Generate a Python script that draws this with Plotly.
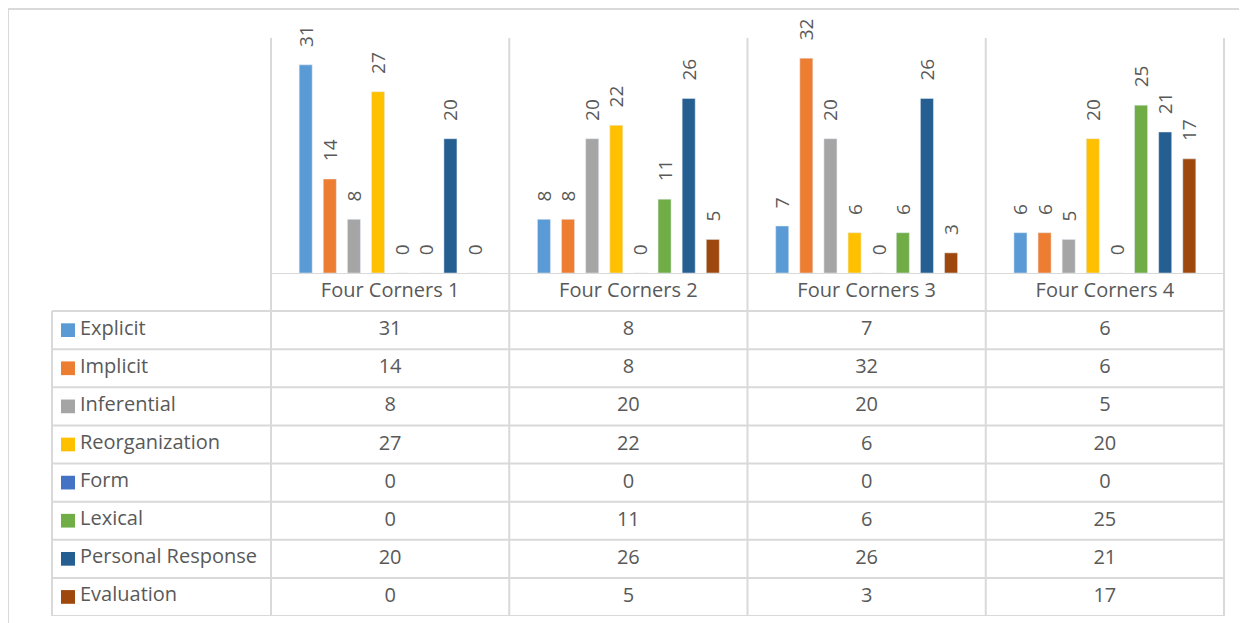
import plotly.graph_objects as go

# The page body has an 8px margin, so the figure is offset by 8px
OFF = 8
W, H = 1247 - OFF, 623 - OFF

categories = ["Four Corners 1", "Four Corners 2", "Four Corners 3", "Four Corners 4"]
series_names = ["Explicit", "Implicit", "Inferential", "Reorganization",
                "Form", "Lexical", "Personal Response", "Evaluation"]
explicit = [31, 8, 7, 6]
implicit = [14, 8, 32, 6]
inferential = [8, 20, 20, 5]
reorganization = [27, 22, 6, 20]
form = [0, 0, 0, 0]
lexical = [0, 11, 6, 25]
personal_response = [20, 26, 26, 21]
evaluation = [0, 5, 3, 17]
series_values = [explicit, implicit, inferential, reorganization,
                 form, lexical, personal_response, evaluation]
colors = ["#5B9BD5", "#ED7D31", "#A5A5A5", "#FFC000",
          "#4472C4", "#70AD47", "#255E91", "#9E480E"]

FONT = "Open Sans"
TXT = "#595959"
GRID = "#D9D9D9"
TSIZE = 20


def px(x):
    return (x - OFF) / W


def py(y):
    return 1 - (y - OFF) / H


fig = go.Figure()

for name, vals, col in zip(series_names, series_values, colors):
    fig.add_trace(go.Bar(
        x=categories, y=vals, name=name, marker_color=col,
        text=["\u00a0\u00a0\u00a0" + str(v) for v in vals],
        textposition="outside", textangle=-90,
        textfont=dict(family=FONT, size=19, color=TXT),
        cliponaxis=False, constraintext="none",
        xaxis="x", yaxis="y", showlegend=False, hoverinfo="skip",
    ))

# table: header row with categories
fig.add_trace(go.Scatter(
    x=categories, y=[0.5] * 4, mode="text", text=categories,
    textfont=dict(family=FONT, size=TSIZE, color=TXT),
    xaxis="x2", yaxis="y2", showlegend=False, hoverinfo="skip",
))
for i, vals in enumerate(series_values):
    fig.add_trace(go.Scatter(
        x=categories, y=[i + 1.5] * 4, mode="text",
        text=[str(v) for v in vals],
        textfont=dict(family=FONT, size=TSIZE, color=TXT),
        xaxis="x2", yaxis="y2", showlegend=False, hoverinfo="skip",
    ))

shapes = []
annotations = []
line = dict(color=GRID, width=2)
nrows = len(series_names) + 1

# outer frame (top and left visible)
shapes.append(dict(type="line", xref="paper", yref="paper",
                   x0=0, x1=1, y0=py(9), y1=py(9), line=line))
shapes.append(dict(type="line", xref="paper", yref="paper",
                   x0=0, x1=0, y0=py(9), y1=0, line=line))

# vertical lines at category boundaries (chart + table)
for b in [k - 0.5 for k in range(len(categories) + 1)]:
    shapes.append(dict(type="line", xref="x", yref="paper",
                       x0=b, x1=b, y0=py(616), y1=py(38), line=line))
# left border of legend column
shapes.append(dict(type="line", xref="paper", yref="y2",
                   x0=px(52), x1=px(52), y0=1, y1=nrows, line=line))
# horizontal lines
shapes.append(dict(type="line", xref="x", yref="y2",
                   x0=-0.5, x1=len(categories) - 0.5, y0=0, y1=0, line=line))
for r in range(1, nrows + 1):
    shapes.append(dict(type="line", xref="paper", yref="y2",
                       x0=px(52), x1=px(1225), y0=r, y1=r, line=line))

# row labels with legend keys
for i, (name, col) in enumerate(zip(series_names, colors)):
    yc = i + 1.5
    shapes.append(dict(type="rect", xref="paper", yref="y2",
                       x0=px(61), x1=px(75), y0=yc - 0.18, y1=yc + 0.18,
                       fillcolor=col, line=dict(width=0)))
    annotations.append(dict(text=name, xref="paper", yref="y2",
                            x=px(78), y=yc, xanchor="left", yanchor="middle",
                            yshift=3, showarrow=False,
                            font=dict(family=FONT, size=TSIZE, color=TXT)))

fig.update_layout(
    width=W, height=H,
    margin=dict(l=0, r=0, t=0, b=0),
    paper_bgcolor="white", plot_bgcolor="rgba(0,0,0,0)",
    barmode="group", bargap=0.19, bargroupgap=0.46,
    xaxis=dict(domain=[px(270), px(1225)], type="category",
               categoryarray=categories, showticklabels=False,
               showgrid=False, zeroline=False, showline=False, ticks=""),
    yaxis=dict(domain=[py(273), py(38)], range=[0, 35],
               showticklabels=False, showgrid=False, zeroline=False,
               showline=False, ticks=""),
    xaxis2=dict(domain=[px(270), px(1225)], matches="x", type="category",
                anchor="y2", showticklabels=False, showgrid=False,
                zeroline=False, showline=False, ticks=""),
    yaxis2=dict(domain=[py(616), py(273)], range=[nrows, 0], anchor="x2",
                showticklabels=False, showgrid=False, zeroline=False,
                showline=False, ticks=""),
    shapes=shapes, annotations=annotations,
    font=dict(family=FONT, color=TXT),
)

fig.write_html("out.html")
